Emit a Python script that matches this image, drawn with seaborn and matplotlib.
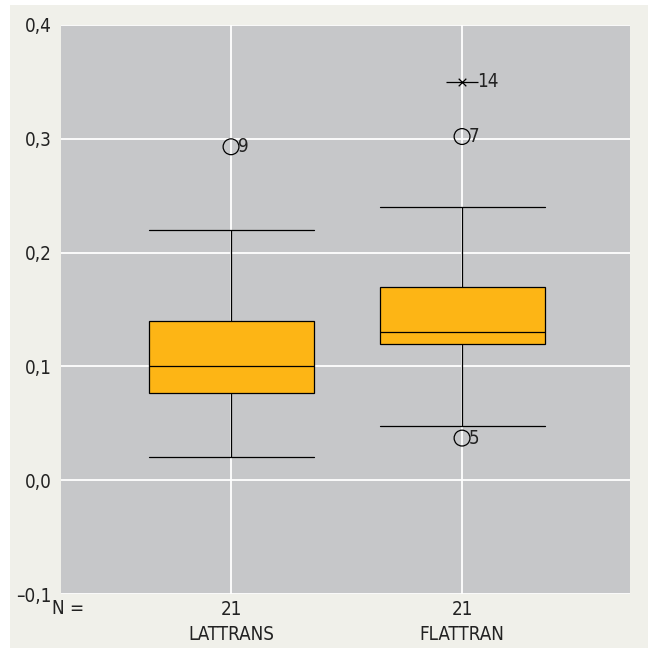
import matplotlib
matplotlib.use("Agg")
import matplotlib.pyplot as plt
import matplotlib.ticker as mticker
import seaborn as sns
import pandas as pd

# five-number summaries (whisker low, Q1, median, Q3, whisker high)
groups = ["LATTRANS", "FLATTRAN"]
lattrans_box = [0.020, 0.077, 0.100, 0.140, 0.220]
flattran_box = [0.048, 0.120, 0.130, 0.170, 0.240]
n_counts = [21, 21]

# outliers (circles) and extremes (x)
outlier_group = ["LATTRANS", "FLATTRAN", "FLATTRAN"]
outlier_value = [0.293, 0.302, 0.037]
outlier_label = ["9", "7", "5"]
extreme_group = ["FLATTRAN"]
extreme_value = [0.350]
extreme_label = ["14"]

df = pd.DataFrame({
    "grupo": [groups[0]] * 5 + [groups[1]] * 5,
    "valor": lattrans_box + flattran_box,
})
out_df = pd.DataFrame({"grupo": outlier_group, "valor": outlier_value})
ext_df = pd.DataFrame({"grupo": extreme_group, "valor": extreme_value})

sns.set_style("whitegrid")
plt.rcParams["font.family"] = ["DejaVu Sans"]
plt.rcParams["font.stretch"] = "condensed"
FS = 13.5

fig = plt.figure(figsize=(6.48, 6.48), dpi=100)
fig.patch.set_facecolor("white")
fig.patches.append(plt.Rectangle((10 / 648, 0), 1, 1 - 5 / 648, transform=fig.transFigure,
                                 facecolor="#f0f0ea", edgecolor="none", zorder=-10))
ax = fig.add_axes([61 / 648, 54 / 648, 569 / 648, 569 / 648])
ax.set_facecolor("#c6c7c9")

sns.boxplot(data=df, x="grupo", y="valor", order=groups, width=0.714, whis=1.5,
            color="#fdb515", saturation=1, showfliers=False, linecolor="black",
            linewidth=0.9, capwidths=0.714, ax=ax)

sns.scatterplot(data=out_df, x="grupo", y="valor", marker="o", s=130,
                facecolor="none", edgecolor="black", linewidth=0.9, ax=ax, zorder=5)
sns.scatterplot(data=ext_df, x="grupo", y="valor", marker="_", s=500,
                color="black", linewidth=0.9, ax=ax, zorder=5)
sns.scatterplot(data=ext_df, x="grupo", y="valor", marker="x", s=30,
                color="black", linewidth=0.9, ax=ax, zorder=5)

for g, v, lab in zip(outlier_group, outlier_value, outlier_label):
    ax.text(groups.index(g) + 0.03, v, lab, fontsize=FS, va="center", ha="left", color="#222222")
for g, v, lab in zip(extreme_group, extreme_value, extreme_label):
    ax.text(groups.index(g) + 0.065, v, lab, fontsize=FS, va="center", ha="left", color="#222222")

ax.set_xlim(-0.736, 1.727)
ax.set_ylim(-0.1, 0.4)
ax.yaxis.set_major_locator(mticker.MultipleLocator(0.1))
ax.yaxis.set_major_formatter(mticker.FuncFormatter(
    lambda v, p: f"{v:.1f}".replace(".", ",").replace("-", "\u2013")))
ax.set_xticks(range(len(groups)))
ax.set_xticklabels([f"{n}\n{g}" for n, g in zip(n_counts, groups)], fontsize=FS,
                   linespacing=1.45)
ax.tick_params(axis="both", length=0, labelsize=FS, colors="#222222")
ax.tick_params(axis="y", pad=7)
ax.tick_params(axis="x", pad=4)
ax.grid(True, color="white", linewidth=1.3)
ax.set_axisbelow(True)
for s in ax.spines.values():
    s.set_visible(False)
ax.set_xlabel("")
ax.set_ylabel("")

fig.text(52 / 648, 1 - 608 / 648, "N =", fontsize=FS, va="center", ha="left", color="#222222")

fig.savefig("out.png", dpi=100)
